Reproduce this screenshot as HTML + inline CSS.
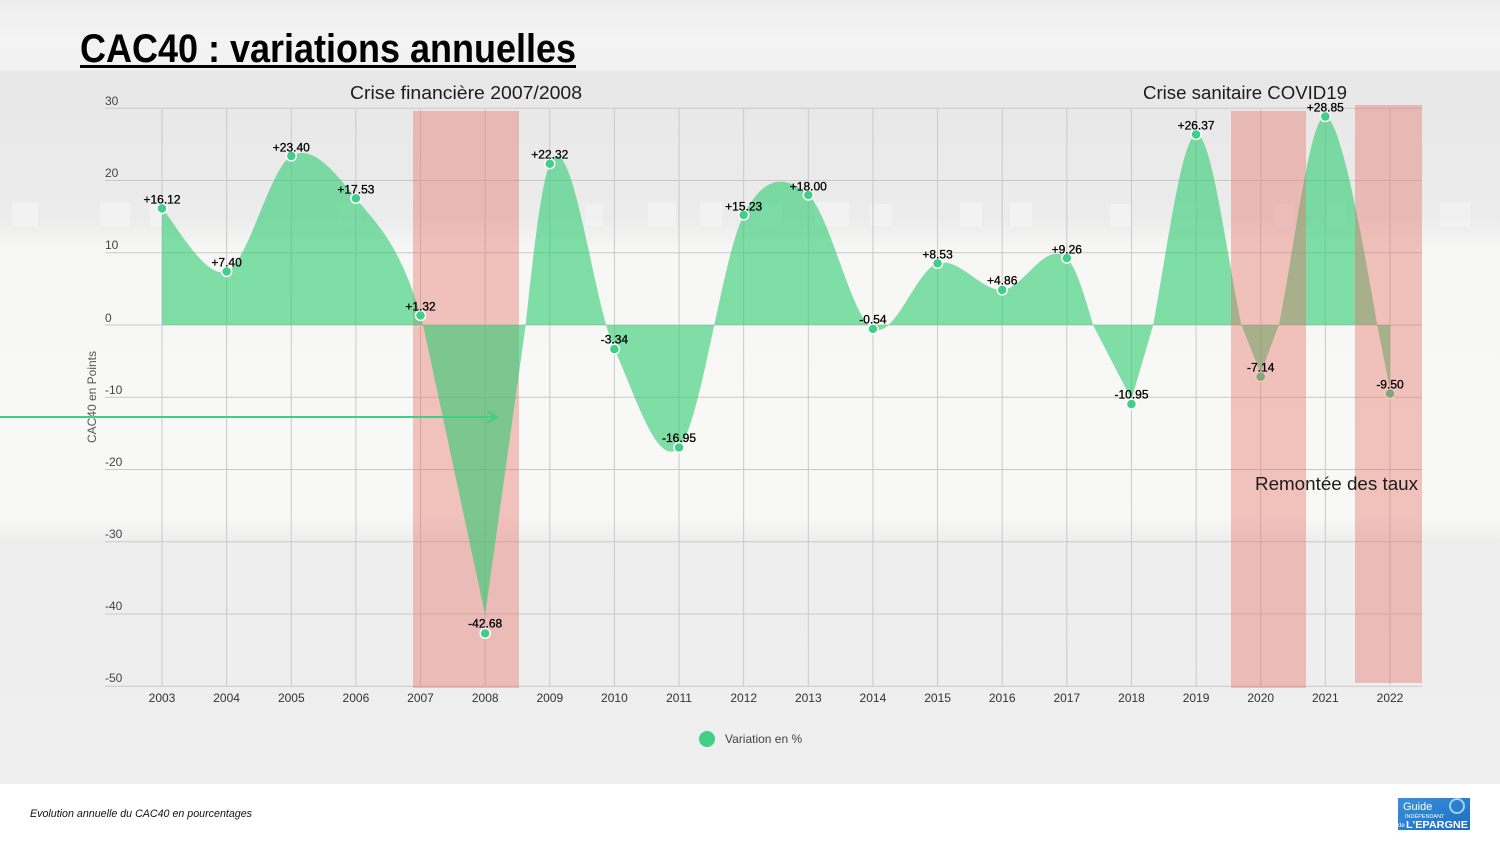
<!DOCTYPE html>
<html><head><meta charset="utf-8">
<style>
html,body{margin:0;padding:0;background:#fff;}
svg{display:block;}
text{font-family:"Liberation Sans",Arial,sans-serif;}
</style></head>
<body>
<svg id="c" width="1500" height="844" viewBox="0 0 1500 844" xmlns="http://www.w3.org/2000/svg">
<defs>
<linearGradient id="bg" x1="0" y1="0" x2="0" y2="1">
<stop offset="0" stop-color="#eeeeee"/>
<stop offset="0.05" stop-color="#f3f3f3"/>
<stop offset="0.088" stop-color="#f2f2f2"/>
<stop offset="0.092" stop-color="#e7e7e7"/>
<stop offset="0.28" stop-color="#ececec"/>
<stop offset="0.32" stop-color="#f7f7f6"/>
<stop offset="0.66" stop-color="#f8f8f6"/>
<stop offset="0.69" stop-color="#eeeeee"/>
<stop offset="1" stop-color="#efefef"/>
</linearGradient>
<linearGradient id="logo" x1="0" y1="0" x2="1" y2="1">
<stop offset="0" stop-color="#3a8fdc"/>
<stop offset="1" stop-color="#1c6fc0"/>
</linearGradient>
</defs>

<rect x="0" y="0" width="1500" height="784" fill="url(#bg)"/>
<rect x="0" y="784" width="1500" height="60" fill="#ffffff"/>
<g fill="#fbfbfb" opacity="0.4">
<rect x="12" y="202" width="26" height="24"/>
<rect x="100" y="202" width="30" height="24"/>
<rect x="150" y="204" width="14" height="22"/>
<rect x="338" y="202" width="24" height="24"/>
<rect x="585" y="204" width="18" height="22"/>
<rect x="648" y="202" width="28" height="24"/>
<rect x="700" y="202" width="22" height="24"/>
<rect x="760" y="204" width="22" height="22"/>
<rect x="815" y="202" width="34" height="24"/>
<rect x="870" y="204" width="22" height="22"/>
<rect x="960" y="202" width="22" height="24"/>
<rect x="1010" y="202" width="22" height="24"/>
<rect x="1110" y="204" width="22" height="22"/>
<rect x="1175" y="202" width="22" height="24"/>
<rect x="1275" y="204" width="18" height="22"/>
<rect x="1325" y="202" width="22" height="24"/>
<rect x="1440" y="202" width="30" height="24"/>
</g>

<!-- gridlines -->
<g id="grid" stroke="#c9c9c9" stroke-width="1"></g>

<!-- y labels -->
<g font-size="12" fill="#444">
<text x="105" y="105">30</text>
<text x="105" y="177">20</text>
<text x="105" y="249">10</text>
<text x="105" y="322">0</text>
<text x="105" y="394">-10</text>
<text x="105" y="466">-20</text>
<text x="105" y="538">-30</text>
<text x="105" y="610">-40</text>
<text x="105" y="682">-50</text>
</g>
<text transform="translate(96,397) rotate(-90)" text-anchor="middle" font-size="12" fill="#555">CAC40 en Points</text>

<!-- x labels -->
<g font-size="12" fill="#333" text-anchor="middle">
<text x="162" y="702">2003</text>
<text x="226.6" y="702">2004</text>
<text x="291.3" y="702">2005</text>
<text x="355.9" y="702">2006</text>
<text x="420.5" y="702">2007</text>
<text x="485.2" y="702">2008</text>
<text x="549.8" y="702">2009</text>
<text x="614.4" y="702">2010</text>
<text x="679" y="702">2011</text>
<text x="743.7" y="702">2012</text>
<text x="808.3" y="702">2013</text>
<text x="872.9" y="702">2014</text>
<text x="937.6" y="702">2015</text>
<text x="1002.2" y="702">2016</text>
<text x="1066.8" y="702">2017</text>
<text x="1131.5" y="702">2018</text>
<text x="1196.1" y="702">2019</text>
<text x="1260.7" y="702">2020</text>
<text x="1325.3" y="702">2021</text>
<text x="1390" y="702">2022</text>
</g>

<!-- 2008 band (under area) -->
<rect x="413" y="111" width="106" height="577" fill="rgb(230,110,100)" fill-opacity="0.4"/>

<!-- area -->
<path id="area" fill="rgb(46,204,113)" fill-opacity="0.6" d=""/>

<!-- points -->
<g id="pts" fill="#3fcf86" stroke="#ffffff" stroke-width="1.5"></g>

<!-- 2020 / 2022 bands (over area) -->
<rect x="1231" y="111" width="75" height="577" fill="rgb(230,110,100)" fill-opacity="0.4"/>
<rect x="1355" y="105" width="67" height="578" fill="rgb(230,110,100)" fill-opacity="0.4"/>

<!-- data labels -->
<g font-size="12" fill="#000" stroke="#000" stroke-width="0.3" text-anchor="middle">
<text x="162" y="203.5">+16.12</text>
<text x="226.6" y="266.5">+7.40</text>
<text x="291.3" y="151.5">+23.40</text>
<text x="355.9" y="193.5">+17.53</text>
<text x="420.5" y="310.5">+1.32</text>
<text x="485.2" y="627.5">-42.68</text>
<text x="549.8" y="158.5">+22.32</text>
<text x="614.4" y="343.5">-3.34</text>
<text x="679" y="442">-16.95</text>
<text x="743.7" y="210.5">+15.23</text>
<text x="808.3" y="190.5">+18.00</text>
<text x="872.9" y="323.5">-0.54</text>
<text x="937.6" y="258.5">+8.53</text>
<text x="1002.2" y="284.5">+4.86</text>
<text x="1066.8" y="253.5">+9.26</text>
<text x="1131.5" y="398.5">-10.95</text>
<text x="1196.1" y="129.5">+26.37</text>
<text x="1260.7" y="371.5">-7.14</text>
<text x="1325.3" y="111.5">+28.85</text>
<text x="1390" y="388.5">-9.50</text>
</g>

<!-- arrow -->
<g stroke="#3fcf86" stroke-width="2" fill="none">
<line x1="0" y1="417" x2="497" y2="417"/>
<polyline points="487,411 497,417 487,423"/>
</g>

<!-- annotations -->
<g font-size="18" fill="#1c1c1c">
<text x="350" y="99" textLength="232" lengthAdjust="spacingAndGlyphs">Crise financière 2007/2008</text>
<text x="1143" y="99" textLength="204" lengthAdjust="spacingAndGlyphs">Crise sanitaire COVID19</text>
<text x="1255" y="490" textLength="163" lengthAdjust="spacingAndGlyphs">Remontée des taux</text>
</g>

<!-- title -->
<text x="80" y="62" font-size="40" font-weight="bold" fill="#000" textLength="496" lengthAdjust="spacingAndGlyphs">CAC40 : variations annuelles</text>
<rect x="80" y="65" width="496" height="3" fill="#000"/>

<!-- legend -->
<circle cx="707" cy="739" r="8" fill="#3fcf86"/>
<text x="725" y="743" font-size="12" fill="#444">Variation en %</text>

<!-- footer -->
<text x="30" y="817" font-size="11" font-style="italic" fill="#111" textLength="222" lengthAdjust="spacingAndGlyphs">Evolution annuelle du CAC40 en pourcentages</text>

<!-- logo -->
<rect x="1398" y="798" width="72" height="32" fill="url(#logo)"/>
<circle cx="1457" cy="806" r="7" fill="none" stroke="#9fd0f5" stroke-width="2"/>
<text x="1403" y="810" font-family="Liberation Serif,serif" font-size="11" fill="#fff">Guide</text>
<text x="1405" y="818" font-size="5.5" fill="#fff">INDÉPENDANT</text>
<text x="1398" y="827" font-size="6" fill="#fff">de</text>
<text x="1406" y="828" font-size="10" font-weight="bold" fill="#fff" textLength="62" lengthAdjust="spacingAndGlyphs">L'EPARGNE</text>
</svg>

<script>
(function(){
var NS="http://www.w3.org/2000/svg";
var vals=[16.12,7.40,23.40,17.53,1.32,-42.68,22.32,-3.34,-16.95,15.23,18.00,-0.54,8.53,4.86,9.26,-10.95,26.37,-7.14,28.85,-9.50];
function X(i){return 162+i*64.63;}
function Y(v){return 325-v*7.225;}
var n=vals.length, p=[];
for(var i=0;i<n;i++)p.push([X(i),Y(vals[i])]);
// sample Catmull-Rom curve
var S=[];
S.push([p[0][0],p[0][1]]);
for(var i=0;i<n-1;i++){
  var p0=p[Math.max(i-1,0)],p1=p[i],p2=p[i+1],p3=p[Math.min(i+2,n-1)];
  var c1x=p1[0]+(p2[0]-p0[0])/6,c1y=p1[1]+(p2[1]-p0[1])/6;
  var c2x=p2[0]-(p3[0]-p1[0])/6,c2y=p2[1]-(p3[1]-p1[1])/6;
  for(var k=1;k<=60;k++){
    var t=k/60,u=1-t;
    var x=u*u*u*p1[0]+3*u*u*t*c1x+3*u*t*t*c2x+t*t*t*p2[0];
    var y=u*u*u*p1[1]+3*u*u*t*c1y+3*u*t*t*c2y+t*t*t*p2[1];
    S.push([x,y]);
  }
}
// V-shaped negative tips
var V=[5,15,17,19];
V.forEach(function(i){
  var xi=X(i), tip=325+(-vals[i])*7.225*0.94;
  var xl=null,xr=null;
  for(var j=0;j<S.length-1;j++){
    if(S[j][0]<=xi && S[j][1]<=325 && S[j+1][1]>325){xl=S[j][0]+(S[j+1][0]-S[j][0])*(325-S[j][1])/(S[j+1][1]-S[j][1]);}
    if(S[j][0]>=xi && S[j][1]>325 && S[j+1][1]<=325 && xr===null){xr=S[j][0]+(S[j+1][0]-S[j][0])*(S[j][1]-325)/(S[j][1]-S[j+1][1]);}
  }
  if(xl===null)return;
  if(xr===null)xr=xi;
  for(var j=0;j<S.length;j++){
    var x=S[j][0];
    if(x>=xl && x<=xi){S[j][1]=325+(tip-325)*(x-xl)/(xi-xl||1);}
    else if(x>xi && x<=xr){S[j][1]=325+(tip-325)*(xr-x)/(xr-xi||1);}
  }
  if(i===n-1){S[S.length-1][1]=tip;}
});
var d="M"+S[0][0].toFixed(2)+","+S[0][1].toFixed(2);
for(var j=1;j<S.length;j++)d+=" L"+S[j][0].toFixed(2)+","+S[j][1].toFixed(2);
d+=" L"+p[n-1][0].toFixed(2)+",325 L"+p[0][0].toFixed(2)+",325 Z";
document.getElementById("area").setAttribute("d",d);
var g=document.getElementById("pts");
for(var i=0;i<n;i++){
  var c=document.createElementNS(NS,"circle");
  c.setAttribute("cx",p[i][0]);c.setAttribute("cy",p[i][1]);c.setAttribute("r","5");
  g.appendChild(c);
}
var gr=document.getElementById("grid");
for(var k=0;k<9;k++){
  var y=108.25+k*72.25;
  var l=document.createElementNS(NS,"line");
  l.setAttribute("x1","105");l.setAttribute("x2","1422");
  l.setAttribute("y1",y);l.setAttribute("y2",y);
  gr.appendChild(l);
}
for(var i=0;i<n;i++){
  var x=X(i);
  var l=document.createElementNS(NS,"line");
  l.setAttribute("x1",x);l.setAttribute("x2",x);
  l.setAttribute("y1","108");l.setAttribute("y2","686.5");
  gr.appendChild(l);
}
})();
</script>
</body></html>
